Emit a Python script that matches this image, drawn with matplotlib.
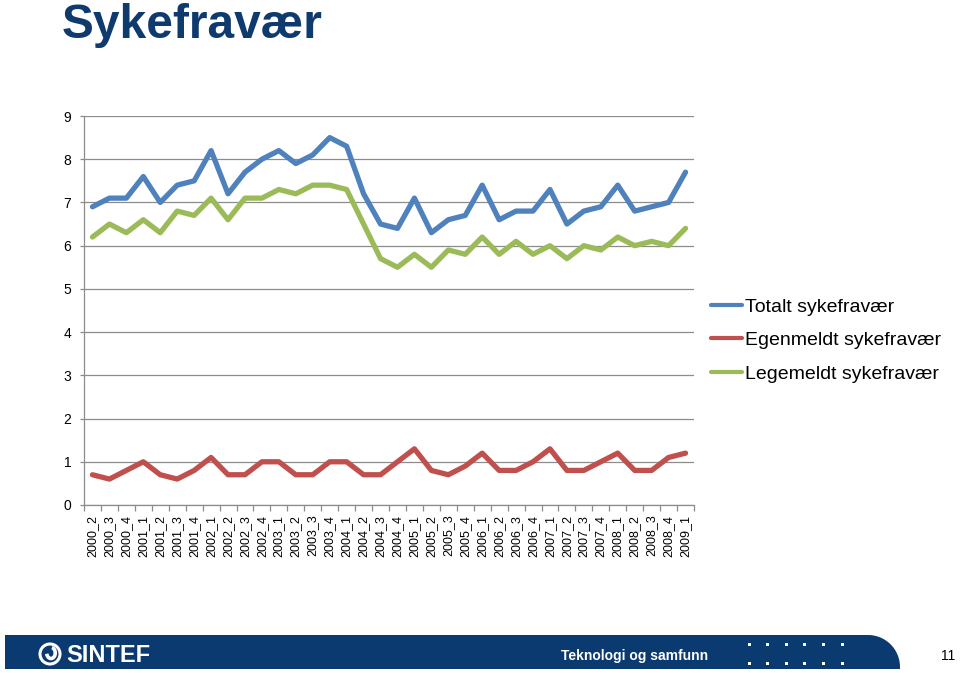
import numpy as np
import matplotlib
matplotlib.use("Agg")
import matplotlib.pyplot as plt
from matplotlib.patches import Polygon, Circle, Arc, Rectangle

plt.rcParams["font.family"] = ["Liberation Sans", "DejaVu Sans"]

# quarters 2000_2 .. 2009_1
quarters = ["2000_2", "2000_3", "2000_4",
            "2001_1", "2001_2", "2001_3", "2001_4",
            "2002_1", "2002_2", "2002_3", "2002_4",
            "2003_1", "2003_2", "2003_3", "2003_4",
            "2004_1", "2004_2", "2004_3", "2004_4",
            "2005_1", "2005_2", "2005_3", "2005_4",
            "2006_1", "2006_2", "2006_3", "2006_4",
            "2007_1", "2007_2", "2007_3", "2007_4",
            "2008_1", "2008_2", "2008_3", "2008_4",
            "2009_1"]

totalt = [6.9, 7.1, 7.1, 7.6, 7.0, 7.4, 7.5, 8.2, 7.2, 7.7, 8.0, 8.2,
          7.9, 8.1, 8.5, 8.3, 7.2, 6.5, 6.4, 7.1, 6.3, 6.6, 6.7, 7.4,
          6.6, 6.8, 6.8, 7.3, 6.5, 6.8, 6.9, 7.4, 6.8, 6.9, 7.0, 7.7]
egenmeldt = [0.7, 0.6, 0.8, 1.0, 0.7, 0.6, 0.8, 1.1, 0.7, 0.7, 1.0, 1.0,
             0.7, 0.7, 1.0, 1.0, 0.7, 0.7, 1.0, 1.3, 0.8, 0.7, 0.9, 1.2,
             0.8, 0.8, 1.0, 1.3, 0.8, 0.8, 1.0, 1.2, 0.8, 0.8, 1.1, 1.2]
legemeldt = [6.2, 6.5, 6.3, 6.6, 6.3, 6.8, 6.7, 7.1, 6.6, 7.1, 7.1, 7.3,
             7.2, 7.4, 7.4, 7.3, 6.5, 5.7, 5.5, 5.8, 5.5, 5.9, 5.8, 6.2,
             5.8, 6.1, 5.8, 6.0, 5.7, 6.0, 5.9, 6.2, 6.0, 6.1, 6.0, 6.4]

series = [("Totalt sykefravær", totalt, "#4F81BD"),
          ("Egenmeldt sykefravær", egenmeldt, "#C0504D"),
          ("Legemeldt sykefravær", legemeldt, "#9BBB59")]

W, H = 960, 673
fig = plt.figure(figsize=(W / 100, H / 100), dpi=100, facecolor="white")

# --- decoration layer in pixel coords (title, footer) ---
deco = fig.add_axes([0, 0, 1, 1])
deco.set_xlim(0, W)
deco.set_ylim(H, 0)
deco.axis("off")

deco.text(62, 38, "Sykefravær", fontsize=34.5, fontweight="bold",
          color="#0F3A6E", ha="left", va="baseline")

# footer band, rounded at the right end
band_col = "#0B3A70"
t = np.linspace(0, 1, 24)
r = 32
curve = np.column_stack([868 + r * np.sin(t * np.pi / 2), 635 + r * (1 - np.cos(t * np.pi / 2))])
band = np.vstack([[[5, 635]], curve, [[900, 669]], [[5, 669]]])
deco.add_patch(Polygon(band, closed=True, facecolor=band_col, edgecolor="none"))

# SINTEF logo
deco.add_patch(Circle((50, 654), 10, facecolor="none", edgecolor="white", lw=2.2))
deco.add_patch(Arc((51, 653), 8.5, 11, theta1=-80, theta2=170, color="white", lw=2.6))
deco.text(66, 655, "SINTEF", fontsize=17, fontweight="bold", color="white",
          ha="left", va="center")

deco.text(635, 656, "Teknologi og samfunn", fontsize=10, fontweight="bold",
          color="white", ha="center", va="center")
for yy in (644, 663):
    for xx in np.linspace(749, 842, 6):
        deco.add_patch(Rectangle((xx - 1.5, yy - 1.5), 3, 3, facecolor="white", edgecolor="none"))
deco.text(948, 656, "11", fontsize=10, color="black", ha="center", va="center")

# --- main chart ---
ax = fig.add_axes([84 / W, 1 - 505 / H, (694 - 84) / W, (505 - 116) / H])
x = np.arange(len(quarters))
for label, vals, col in series:
    ax.plot(x, vals, color=col, lw=3.8, label=label, solid_capstyle="round",
            solid_joinstyle="round")

ax.set_xlim(-0.5, len(quarters) - 0.5)
ax.set_ylim(0, 9)
ax.set_yticks(range(0, 10))
ax.yaxis.grid(True, color="#8C8C8C", lw=0.9)
ax.set_axisbelow(True)
for s in ("top", "right"):
    ax.spines[s].set_visible(False)
for s in ("left", "bottom"):
    ax.spines[s].set_color("#8C8C8C")
    ax.spines[s].set_linewidth(0.9)

ax.set_xticks(x)
ax.set_xticklabels(quarters, rotation=90, fontsize=9)
ax.set_xticks(np.arange(-0.5, len(quarters)), minor=True)
ax.tick_params(axis="x", which="major", length=0, pad=7)
ax.tick_params(axis="x", which="minor", length=4, color="#8C8C8C", width=0.9)
ax.tick_params(axis="y", length=3, color="#8C8C8C", width=0.9, labelsize=10, pad=6)

leg = ax.legend(loc="upper left", bbox_to_anchor=(711 / W, 1 - 298 / H),
                bbox_transform=fig.transFigure, frameon=False, fontsize=14,
                handlelength=1.6, handletextpad=0.15, labelspacing=0.82,
                borderpad=0, borderaxespad=0)
for h in leg.get_lines():
    h.set_linewidth(3.0)
    h.set_solid_capstyle("round")

fig.savefig("out.png", dpi=100, facecolor="white")
